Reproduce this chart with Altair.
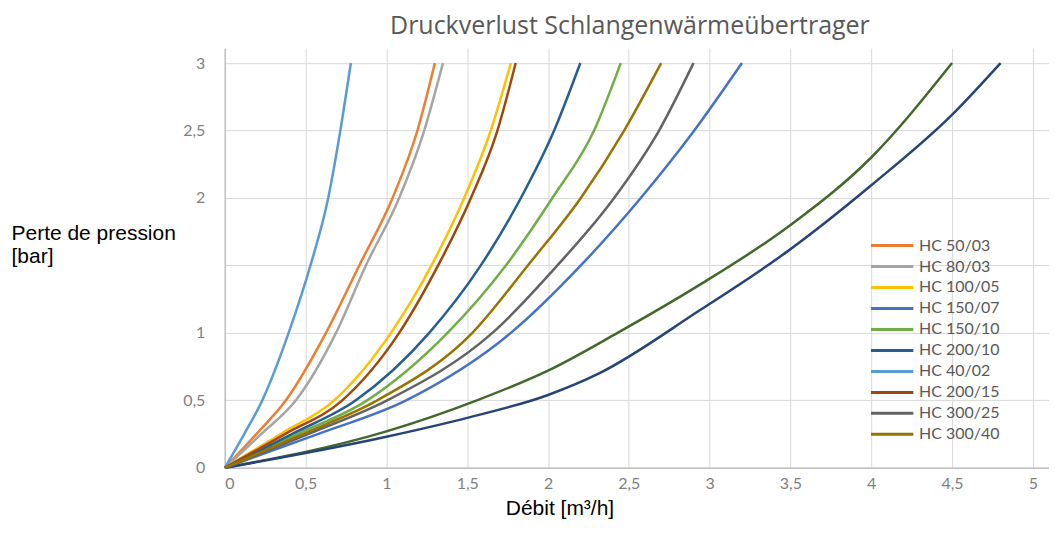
import altair as alt
import pandas as pd

# Pressure levels (bar) at which flows were read for the legend series
pressure_levels = [0, 0.25, 0.5, 1.0, 1.5, 2.0, 2.5, 3.0]

series_names = ["HC 50/03", "HC 80/03", "HC 100/05", "HC 150/07", "HC 150/10",
                "HC 200/10", "HC 40/02", "HC 200/15", "HC 300/25", "HC 300/40"]
series_colors = ["#ED7D31", "#A5A5A5", "#FFC000", "#4472C4", "#70AD47",
                 "#255E91", "#5B9BD5", "#9E480E", "#636363", "#997300"]

# Flow (m3/h) read at each pressure level
hc_50_03 = [0, 0.195, 0.378, 0.626, 0.832, 1.038, 1.192, 1.30]
hc_80_03 = [0, 0.225, 0.440, 0.688, 0.873, 1.079, 1.234, 1.35]
hc_100_05 = [0, 0.345, 0.677, 1.028, 1.279, 1.481, 1.646, 1.77]
hc_150_07 = [0, 0.575, 1.122, 1.770, 2.203, 2.574, 2.905, 3.20]
hc_150_10 = [0, 0.450, 0.881, 1.378, 1.739, 2.027, 2.285, 2.45]
hc_200_10 = [0, 0.415, 0.811, 1.265, 1.584, 1.832, 2.038, 2.20]
hc_40_02 = [0, 0.120, 0.232, 0.395, 0.530, 0.640, 0.715, 0.78]
hc_200_15 = [0, 0.372, 0.727, 1.079, 1.320, 1.523, 1.687, 1.80]
hc_300_25 = [0, 0.515, 1.005, 1.656, 2.058, 2.409, 2.687, 2.90]
hc_300_40 = [0, 0.482, 0.943, 1.532, 1.875, 2.203, 2.471, 2.70]

series_flows = [hc_50_03, hc_80_03, hc_100_05, hc_150_07, hc_150_10,
                hc_200_10, hc_40_02, hc_200_15, hc_300_25, hc_300_40]

# Two further curves without legend entries (flow, pressure pairs)
extra_names = ["curve A", "curve B"]
extra_colors = ["#43682B", "#264478"]
curve_a_flow = [0, 1.0, 1.56, 2.0, 2.43, 2.93, 3.49, 4.0, 4.5]
curve_a_pressure = [0, 0.27, 0.5, 0.72, 1.0, 1.35, 1.79, 2.30, 3.0]
curve_b_flow = [0, 1.0, 1.5, 2.0, 2.316, 2.934, 3.471, 4.006, 4.501, 4.8]
curve_b_pressure = [0, 0.23, 0.37, 0.54, 0.70, 1.164, 1.595, 2.10, 2.618, 3.0]

x_ticks = [0, 0.5, 1, 1.5, 2, 2.5, 3, 3.5, 4, 4.5, 5]
y_ticks = [0, 0.5, 1, 1.5, 2, 2.5, 3]

rows = []
for name, flows in zip(series_names, series_flows):
    for f, p in zip(flows, pressure_levels):
        rows.append({"series": name, "flow": f, "pressure": p})
df = pd.DataFrame(rows)

rows2 = []
for name, fl, pr in [("curve A", curve_a_flow, curve_a_pressure),
                     ("curve B", curve_b_flow, curve_b_pressure)]:
    for f, p in zip(fl, pr):
        rows2.append({"series": name, "flow": f, "pressure": p})
df2 = pd.DataFrame(rows2)

x_enc = alt.X("flow:Q",
              scale=alt.Scale(domain=[0, 5.1], nice=False, zero=True),
              axis=alt.Axis(values=x_ticks, format=".1~f",
                            labelExpr="replace(datum.label, '.', ',')",
                            title="Débit [m³/h]",
                            titleX=335, titleY=47, titleAlign="center",
                            titleBaseline="alphabetic"))
y_enc = alt.Y("pressure:Q",
              scale=alt.Scale(domain=[0, 3.11], nice=False),
              axis=alt.Axis(values=y_ticks, format=".1~f",
                            labelExpr="datum.value == 1.5 ? '' : replace(datum.label, '.', ',')",
                            title=["Perte de pression", "[bar]"],
                            titleAngle=0, titleAlign="left", titleBaseline="top",
                            titleX=-214, titleY=174, titleLineHeight=23,
                            labelPadding=20))

main = alt.Chart(df).mark_line(strokeWidth=2.5, interpolate="monotone").encode(
    x=x_enc,
    y=y_enc,
    color=alt.Color("series:N",
                    scale=alt.Scale(domain=series_names, range=series_colors),
                    sort=series_names,
                    legend=alt.Legend(title=None, orient="none", legendX=645, legendY=187,
                                      symbolType="stroke", symbolSize=1800,
                                      symbolStrokeWidth=3, labelFont="Lato",
                                      labelFontSize=16, labelColor="#595959",
                                      clipHeight=21, rowPadding=0, labelOffset=4)),
)

extra = alt.Chart(df2).mark_line(strokeWidth=2.5, interpolate="monotone").encode(
    x=alt.X("flow:Q"),
    y=alt.Y("pressure:Q"),
    color=alt.Color("series:N", scale=alt.Scale(domain=extra_names, range=extra_colors),
                    legend=None),
)

chart = alt.layer(extra, main).resolve_scale(color="independent").properties(
    width=825, height=420,
    title=alt.TitleParams("Druckverlust Schlangenwärmeübertrager", font="Open Sans",
                          fontSize=25, color="#595959", fontWeight="normal",
                          anchor="middle", dx=-7, offset=9),
    autosize=alt.AutoSizeParams(type="none"),
    padding={"left": 217, "top": 40, "right": 0, "bottom": 70},
).configure_view(stroke=None).configure_axis(
    grid=True, gridColor="#D9D9D9", gridWidth=1,
    domainColor="#BFBFBF", domainWidth=1.5, ticks=False,
    labelFont="Lato", labelFontSize=16, labelColor="#7F7F7F", labelPadding=8,
    titleFont="Liberation Sans", titleFontSize=21, titleFontWeight="normal",
    titleColor="#000000",
)

chart.save("out.html", embed_options={"renderer": "svg", "actions": False})
